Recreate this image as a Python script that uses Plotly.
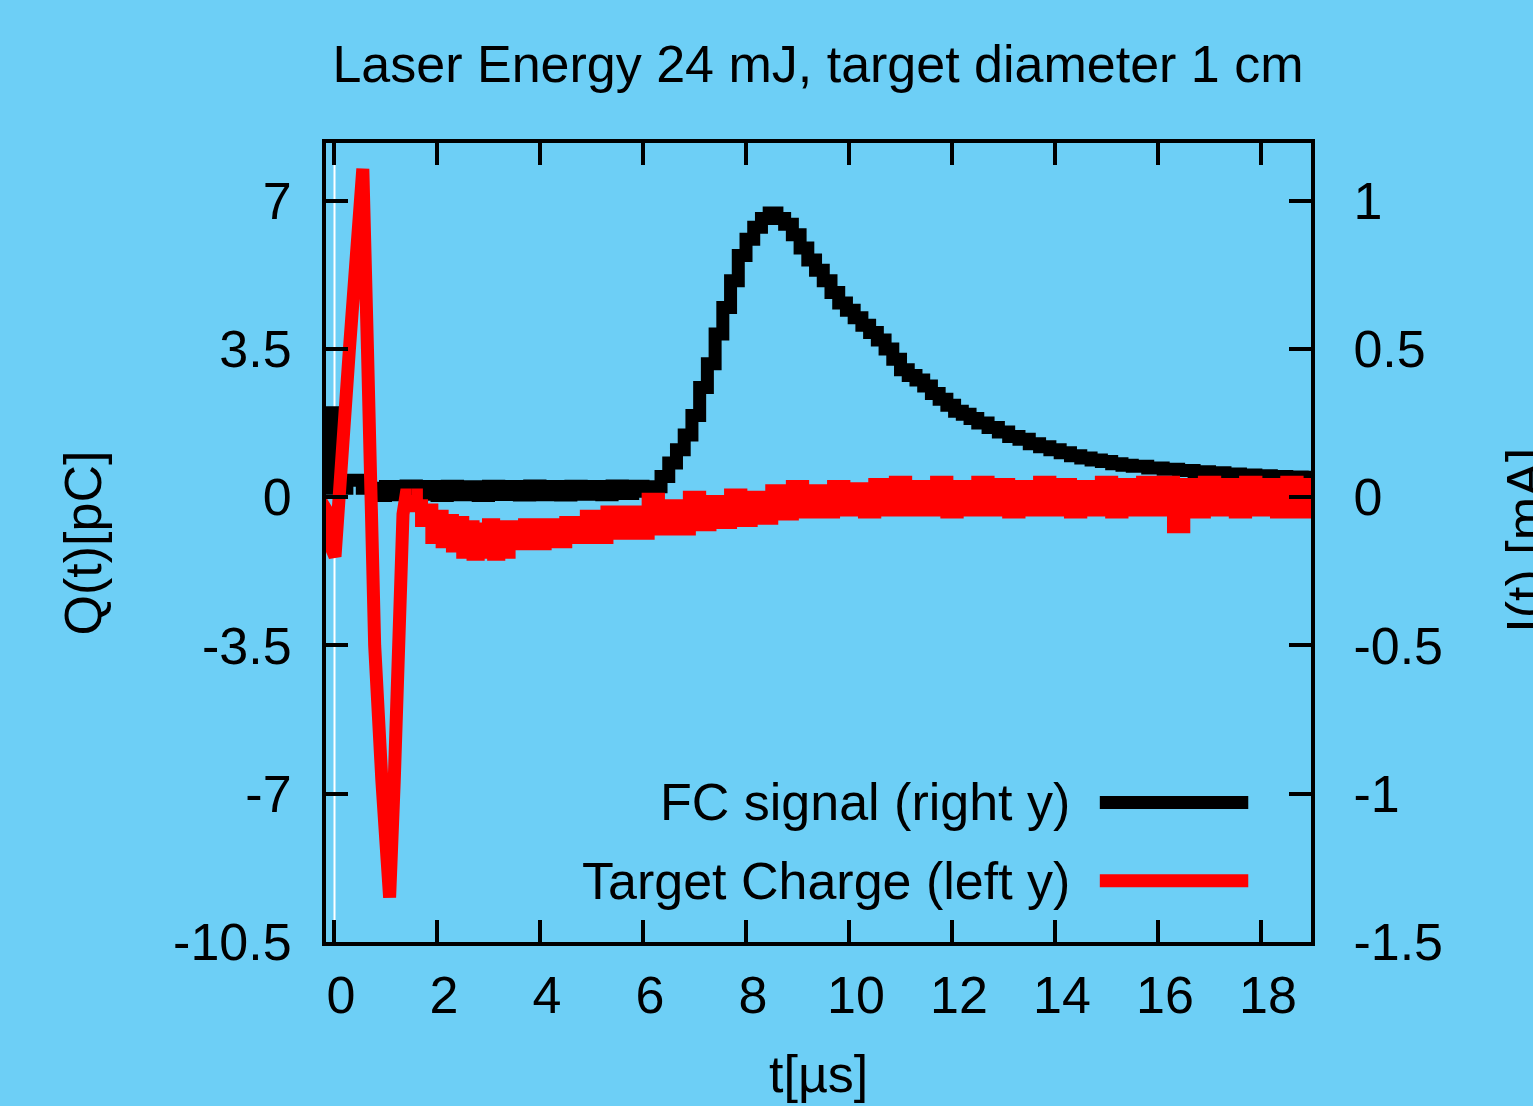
import plotly.graph_objects as go

# ---------------- data ----------------
# FC signal (right axis, mA)
t_fc = [-0.25, -0.05, 0.0, 0.25, 0.55, 0.8, 1.0, 1.2, 1.4, 1.6, 1.8, 2.0, 2.2, 2.4, 2.6, 2.8,
        3.0, 3.2, 3.4, 3.6, 3.8, 4.0, 4.2, 4.4, 4.6, 4.8, 5.0, 5.2, 5.4, 5.6, 5.8, 6.0,
        6.2, 6.35, 6.5, 6.65, 6.8, 6.95, 7.1, 7.25, 7.4, 7.55, 7.7, 7.85, 8.0, 8.15, 8.3,
        8.45, 8.6, 8.75, 8.9, 9.05, 9.2, 9.35, 9.5, 9.65, 9.8, 9.95, 10.1, 10.25, 10.4,
        10.55, 10.7, 10.85, 11.0, 11.15, 11.3, 11.45, 11.6, 11.75, 11.9, 12.05, 12.2,
        12.35, 12.5, 12.7, 12.9, 13.1, 13.3, 13.5, 13.7, 13.9, 14.1, 14.3, 14.5, 14.7,
        14.9, 15.1, 15.3, 15.5, 15.8, 16.1, 16.4, 16.7, 17.0, 17.3, 17.6, 17.9, 18.2,
        18.5, 18.8, 19.1]
i_fc = [0.03, 0.285, 0.03, 0.057, 0.03, 0.006, 0.036, 0.008, 0.038, 0.01, 0.036, 0.006,
        0.037, 0.008, 0.035, 0.006, 0.037, 0.009, 0.036, 0.007, 0.038, 0.008, 0.036, 0.007,
        0.037, 0.01, 0.036, 0.008, 0.038, 0.012, 0.037, 0.02,
        0.035, 0.07, 0.115, 0.16, 0.21, 0.275, 0.37, 0.45, 0.55, 0.64, 0.73, 0.815, 0.87,
        0.91, 0.94, 0.958, 0.94, 0.92, 0.885, 0.84, 0.80, 0.765, 0.73, 0.69, 0.655, 0.63,
        0.605, 0.58, 0.555, 0.53, 0.50, 0.465, 0.43, 0.41, 0.395, 0.375, 0.35, 0.33, 0.31,
        0.29, 0.28, 0.265, 0.25, 0.235, 0.22, 0.205, 0.195, 0.18, 0.17, 0.16, 0.15, 0.14,
        0.132, 0.125, 0.12, 0.113, 0.108, 0.104, 0.098, 0.094, 0.09, 0.086, 0.082, 0.078,
        0.075, 0.072, 0.07, 0.068, 0.067, 0.066]

# Target charge (left axis, pC) - early oscillation
t_q_early = [-0.3, -0.15, -0.05, 0.02, 0.3, 0.56, 0.65, 0.72, 0.79, 0.93, 1.08, 1.17,
             1.24, 1.3, 1.34, 1.4, 1.5]
q_early = [0.0, -0.3, -1.2, -1.4, 3.5, 7.75, 3.5, 0.4, -3.5, -6.7, -9.45, -6.7,
           -3.5, -1.9, -0.4, 0.05, 0.05]

# Target charge - later noisy part
t_q_late = [1.5, 1.6, 1.7, 1.8, 1.9, 2.0, 2.1, 2.2, 2.3, 2.4, 2.5, 2.6, 2.7, 2.8, 2.9,
            3.0, 3.1, 3.2, 3.3, 3.4, 3.5, 3.7, 3.9, 4.1, 4.3,
            4.5, 4.7, 4.9, 5.1, 5.3, 5.5, 5.7, 5.9, 6.1, 6.3, 6.5, 6.7, 6.9, 7.1, 7.3,
            7.5, 7.7, 7.9, 8.1, 8.3, 8.5, 8.7, 8.9, 9.1, 9.3, 9.5, 9.7, 9.9, 10.1, 10.3,
            10.5, 10.7, 10.9, 11.1, 11.3, 11.5, 11.7, 11.9, 12.1, 12.3, 12.5, 12.7, 12.9,
            13.1, 13.3, 13.5, 13.7, 13.9, 14.1, 14.3, 14.5, 14.7, 14.9, 15.1, 15.3, 15.5,
            15.7, 15.9, 16.1, 16.3, 16.5, 16.7, 16.9, 17.1, 17.3, 17.5, 17.7, 17.9, 18.1,
            18.3, 18.5, 18.7, 18.9, 19.1]
q_late = [0.05, -0.2, -0.55, -0.3, -0.95, -0.45, -1.05, -0.55, -1.15, -0.6, -1.3, -0.7,
          -1.35, -0.75, -1.3, -0.65, -1.35, -0.7, -1.3, -0.7, -1.1, -0.65, -1.1, -0.65,
          -1.05, -0.6, -0.95, -0.45, -0.95, -0.35, -0.85, -0.35, -0.85, -0.05, -0.75,
          -0.2, -0.75, 0.0, -0.65, -0.1, -0.6, 0.05, -0.55, 0.0, -0.5, 0.15, -0.4,
          0.25, -0.35, 0.15, -0.35, 0.25, -0.3, 0.2, -0.35, 0.3, -0.3, 0.35, -0.3, 0.25,
          -0.3, 0.35, -0.35, 0.25, -0.3, 0.35, -0.3, 0.3, -0.35, 0.25, -0.3, 0.35, -0.3,
          0.3, -0.35, 0.25, -0.3, 0.35, -0.35, 0.3, -0.3, 0.35, -0.3, 0.35, -0.7, 0.3,
          -0.35, 0.35, -0.3, 0.3, -0.35, 0.35, -0.3, 0.3, -0.35, 0.35, -0.35, 0.3, -0.3]

x_ticks = [0, 2, 4, 6, 8, 10, 12, 14, 16, 18]
q_ticks = [-10.5, -7, -3.5, 0, 3.5, 7]
q_ticktext = ["-10.5", "-7", "-3.5", "0", "3.5", "7"]
i_ticks = [-1.5, -1, -0.5, 0, 0.5, 1]
i_ticktext = ["-1.5", "-1", "-0.5", "0", "0.5", "1"]

title_text = "Laser Energy 24 mJ, target diameter 1 cm"
legend_labels = ["FC signal (right y)", "Target Charge (left y)"]

BG = "#6DCFF6"
FONT = "Liberation Sans, Arial, Helvetica, sans-serif"
FS = 52
LW = 13

fig = go.Figure()
fig.add_trace(go.Scatter(x=t_fc, y=i_fc, mode="lines", line=dict(color="black", width=LW, shape="hv"),
                         yaxis="y", showlegend=False))
fig.add_trace(go.Scatter(x=t_q_early, y=q_early, mode="lines", line=dict(color="#FF0000", width=LW),
                         yaxis="y2", showlegend=False))
fig.add_trace(go.Scatter(x=t_q_late, y=q_late, mode="lines", line=dict(color="#FF0000", width=LW, shape="hv"),
                         yaxis="y2", showlegend=False))

axis_common = dict(showgrid=False, zeroline=False, showline=True, linecolor="black", linewidth=4,
                   ticks="inside", ticklen=22, tickwidth=3.5, tickcolor="black",
                   tickfont=dict(family=FONT, size=FS, color="black"))

fig.update_layout(
    width=1533, height=1106,
    margin=dict(l=326, r=222, t=143, b=164),
    paper_bgcolor=BG, plot_bgcolor=BG,
    font=dict(family=FONT, size=FS, color="black"),
    title=dict(text=title_text, x=818 / 1533, xref="container", xanchor="center",
               y=1 - 64 / 1106, yref="container", yanchor="middle",
               font=dict(family=FONT, size=FS, color="black")),
    xaxis=dict(range=[-0.155, 18.97], tickvals=x_ticks, mirror="ticks", ticklabelstandoff=5,
               ticklabelshift=7, **axis_common),
    yaxis=dict(range=[-1.5, 8.36 / 7], side="right", tickvals=i_ticks, ticktext=i_ticktext,
               ticklabelstandoff=28, **axis_common),
    yaxis2=dict(range=[-10.5, 8.36], side="left", overlaying="y", tickvals=q_ticks, ticktext=q_ticktext,
                ticklabelstandoff=20, **axis_common),
    showlegend=False,
)

# white vertical marker at t = 0
fig.add_shape(type="line", xref="x", yref="paper", x0=0.01, x1=0.01, y0=0, y1=1,
              line=dict(color="white", width=2), layer="below")

# axis titles
fig.add_annotation(text="t[µs]", xref="paper", yref="paper", x=0.5, y=-0.1646,
                   xanchor="center", yanchor="middle", showarrow=False,
                   font=dict(family=FONT, size=FS, color="black"))
fig.add_annotation(text="Q(t)[pC]", xref="paper", yref="paper", x=-0.2467, y=0.4988,
                   xanchor="center", yanchor="middle", textangle=-90, showarrow=False,
                   font=dict(family=FONT, size=FS, color="black"))
fig.add_annotation(text="I(t) [mA]", xref="paper", yref="paper", x=1.2164, y=0.5025,
                   xanchor="center", yanchor="middle", textangle=-90, showarrow=False,
                   font=dict(family=FONT, size=FS, color="black"))

# legend (gnuplot style: text right-aligned, sample on the right)
legend_colors = ["black", "#FF0000"]
legend_y = [0.1746, 0.0767]
for lab, col, yy in zip(legend_labels, legend_colors, legend_y):
    fig.add_annotation(text=lab, xref="paper", yref="paper", x=0.7574, y=yy,
                       xanchor="right", yanchor="middle", showarrow=False,
                       font=dict(family=FONT, size=FS, color="black"))
    fig.add_shape(type="line", xref="paper", yref="paper", x0=0.7856, x1=0.9363, y0=yy, y1=yy,
                  line=dict(color=col, width=LW))

fig.write_html("out.html")
